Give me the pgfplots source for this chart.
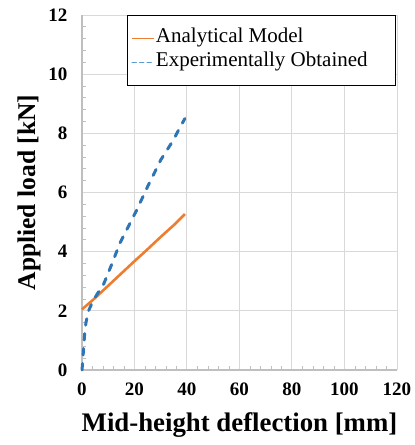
\documentclass[border=0pt]{standalone}
\usepackage{pgfplots}
\pgfplotsset{compat=1.18}
\usepackage{fontspec}
\setmainfont{Liberation Serif}
\definecolor{orng}{RGB}{237,125,49}
\definecolor{blu}{RGB}{46,117,182}
\definecolor{lblu}{RGB}{91,155,213}
\definecolor{gridc}{RGB}{217,217,217}
\definecolor{axc}{RGB}{191,191,191}
\begin{document}
\begin{tikzpicture}
\begin{axis}[
  name=ax,
  scale only axis, width=315pt, height=355pt,
  xmin=0, xmax=120, ymin=0, ymax=12,
  xtick={0,20,...,120}, ytick={0,2,...,12},
  xticklabels={\textbf{0},\textbf{20},\textbf{40},\textbf{60},\textbf{80},\textbf{100},\textbf{120}},
  yticklabels={\textbf{0},\textbf{2},\textbf{4},\textbf{6},\textbf{8},\textbf{10},\textbf{12}},
  minor x tick num=4, minor y tick num=4,
  axis x line*=bottom, axis y line*=left,
  axis line style={axc, line width=1.5pt, -},
  tick style={axc, line width=0.8pt},
  major tick length=0pt, minor tick length=4pt,
  tick align=inside,
  grid=major, major grid style={gridc, line width=1pt},
  ticklabel style={font=\fontsize{19}{19}\selectfont},
  xticklabel style={yshift=-9pt},
  yticklabel style={xshift=-11pt},
  xlabel={\textbf{Mid-height deflection [mm]}},
  ylabel={\textbf{Applied load [kN]}},
  xlabel style={font=\fontsize{26.8}{26.8}\selectfont, at={(axis description cs:0.5,-0.155)}, anchor=center, inner sep=0pt},
  ylabel style={font=\fontsize{25.5}{25.5}\selectfont, at={(axis description cs:-0.168,0.5)}, anchor=center, inner sep=0pt},
  legend style={at={(0.143,1)}, anchor=north west, draw=black, line width=0.9pt,
    font=\fontsize{21}{21}\selectfont, inner xsep=4pt, inner ysep=11pt, row sep=0pt,
    nodes={inner sep=1.5pt, text height=15pt, text depth=6pt}},
  legend cell align=left,
  clip=false,
]
\addplot[orng, line width=2.6pt, legend image code/.code={\draw[orng, line width=1pt] (0pt,0pt) -- (22pt,0pt);}] coordinates {(0,2.05) (4.3,2.38) (10,2.85) (20,3.68) (24.6,4.05) (30,4.5) (35,4.9) (39.2,5.27)};
\addlegendentry{Analytical Model}
\addplot[blu, line width=3pt, line cap=round, dash pattern=on 6.5pt off 8.5pt, legend image code/.code={\draw[lblu, line width=1pt, dash pattern=on 4.5pt off 3pt] (0pt,0pt) -- (22pt,0pt);}] coordinates {(0,0) (0.3,0.3) (0.5,0.6) (1,1.2) (1.5,1.6) (2.5,2.0) (4,2.3) (6,2.6) (8,2.85) (11,3.5) (14.5,4.3) (20.8,5.4) (25,6.2) (30,7.1) (35,7.8) (37,8.15) (39.2,8.5)};
\addlegendentry{Experimentally Obtained\rule{22pt}{0pt}}
\end{axis}
\pgfresetboundingbox
\path[use as bounding box] (ax.south west) ++(-82pt,-75pt) rectangle ++(415pt,445pt);
\end{tikzpicture}
\end{document}
